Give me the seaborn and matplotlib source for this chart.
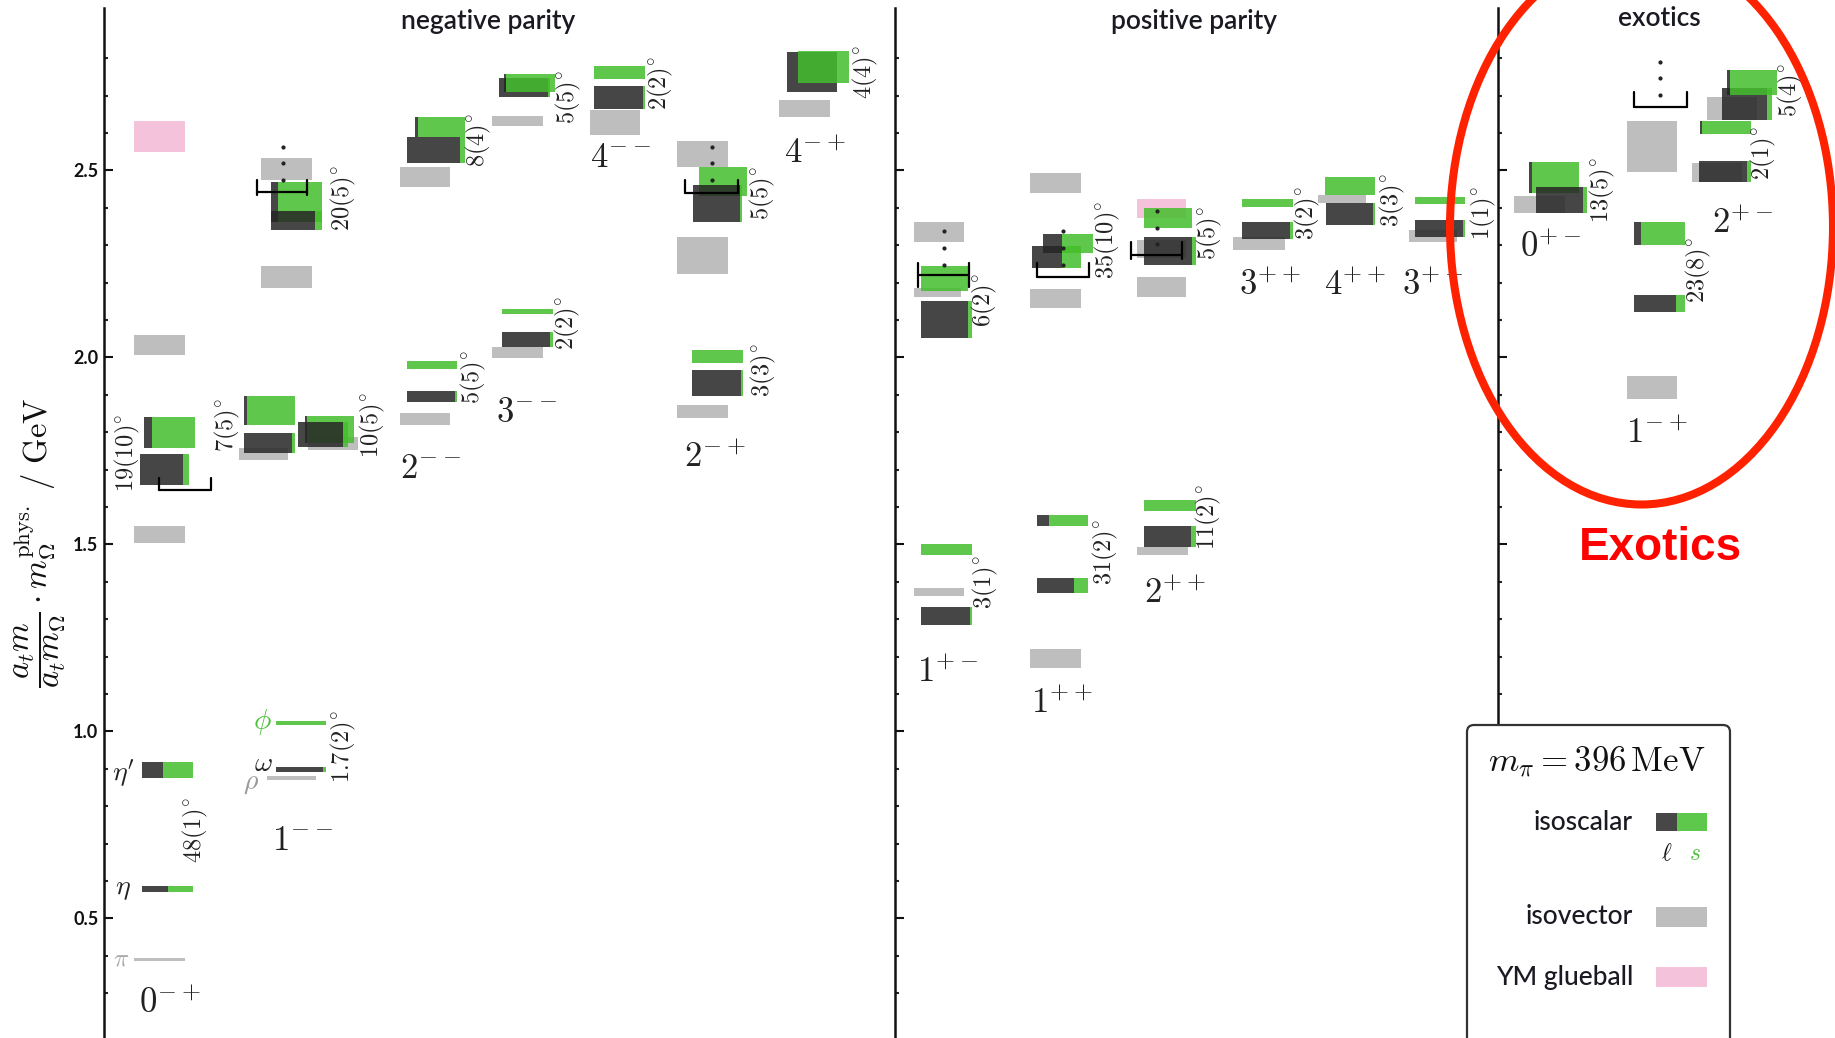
import matplotlib
matplotlib.use("Agg")
import matplotlib.pyplot as plt
from matplotlib.patches import Ellipse, FancyBboxPatch, Rectangle
from matplotlib.ticker import FixedLocator
import pandas as pd
import seaborn as sns

# ============================
# colours
# ============================
DARK = "#262626"     # light-quark (ell) part, drawn with alpha
GREEN = "#43be2b"    # strange (s) part, drawn with alpha
GREY = "#bebebe"
PINK = "#f5c2dc"
RED = "#ff2200"
ALPHA_IS = 0.85

# ============================
# data (masses in GeV)
# ============================
# isovector states
IV_MASS = [2.033, 1.527, 0.390,
           2.503, 2.215, 1.742, 1.770, 0.875,
           2.483, 1.835,
           2.632, 2.013,
           2.628,
           2.544, 2.272, 1.855,
           2.666,
           2.335, 2.174, 1.373,
           2.467, 2.157, 1.195,
           2.290, 2.188, 1.482,
           2.305, 2.424, 2.325,
           2.409, 2.564, 1.920, 2.665, 2.494]
IV_ERR = [0.027, 0.023, 0.004,
          0.029, 0.030, 0.016, 0.017, 0.006,
          0.027, 0.016,
          0.014, 0.015,
          0.034,
          0.035, 0.050, 0.017,
          0.023,
          0.027, 0.012, 0.011,
          0.027, 0.025, 0.025,
          0.025, 0.027, 0.011,
          0.017, 0.011, 0.016,
          0.023, 0.068, 0.030, 0.031, 0.025]

# isoscalar states, with the strange fraction of each
IS_MASS = [1.800, 1.700, 0.897, 0.578,
           2.416, 2.366, 1.858, 1.771, 1.807, 1.794, 1.022, 0.898,
           2.616, 2.555, 1.980, 1.895,
           2.722, 2.734, 2.122, 2.048,
           2.762, 2.695,
           2.470, 2.411, 2.003, 1.931,
           2.763, 2.776,
           2.211, 2.102, 1.486, 1.309,
           2.305, 2.268, 1.564, 1.391,
           2.373, 2.285, 1.603, 1.521,
           2.413, 2.340,
           2.459, 2.384,
           2.420, 2.345,
           2.481, 2.421,
           2.331, 2.145,
           2.677, 2.735, 2.615, 2.497]
IS_ERR = [0.041, 0.041, 0.021, 0.008,
          0.054, 0.025, 0.039, 0.027, 0.036, 0.033, 0.006, 0.007,
          0.027, 0.035, 0.011, 0.015,
          0.026, 0.024, 0.007, 0.020,
          0.018, 0.031,
          0.039, 0.050, 0.017, 0.035,
          0.053, 0.043,
          0.033, 0.050, 0.015, 0.024,
          0.025, 0.029, 0.015, 0.020,
          0.027, 0.037, 0.015, 0.028,
          0.011, 0.023,
          0.024, 0.029,
          0.010, 0.023,
          0.041, 0.035,
          0.031, 0.023,
          0.043, 0.033, 0.017, 0.028]
IS_SFRAC = [0.84, 0.12, 0.59, 0.49,
            0.86, 0.14, 0.95, 0.05, 0.95, 0.10, 1.00, 0.06,
            0.95, 0.09, 1.00, 0.04,
            0.03, 0.97, 1.00, 0.06,
            1.00, 0.04,
            1.00, 0.04, 1.00, 0.04,
            0.00, 1.00,
            1.00, 0.07, 1.00, 0.04,
            0.62, 0.39, 0.77, 0.28,
            1.00, 0.07, 1.00, 0.09,
            1.00, 0.05,
            1.00, 0.04,
            1.00, 0.05,
            0.95, 0.08,
            0.86, 0.18,
            0.10, 0.95, 0.97, 0.08]

# Yang-Mills glueballs
GB_MASS = [2.590, 2.398]
GB_ERR = [0.041, 0.025]

# "more states" dots and brackets (GeV)
DOT_MASS = [[2.563, 2.520, 2.474], [2.563, 2.520, 2.474], [2.338, 2.293, 2.247],
            [2.338, 2.293, 2.247], [2.392, 2.346, 2.303], [2.790, 2.747, 2.702]]
BRACKET_LINE = [1.646, 2.442, 2.440, 2.220, 2.215, 2.274, 2.670]
BRACKET_TOP = [1.678, 2.474, 2.474, 2.252, 2.253, 2.308, 2.710]
BRACKET_BOT = [1.646, 2.434, 2.440, 2.188, 2.215, 2.263, 2.670]

# mixing angles and J^PC labels
ANGLES = ["19(10)", "48(1)", "7(5)", "20(5)", "10(5)", "1.7(2)", "8(4)", "5(5)",
          "5(5)", "2(2)", "2(2)", "5(5)", "3(3)", "4(4)", "6(2)", "3(1)",
          "35(10)", "31(2)", "5(5)", "11(2)", "3(2)", "3(3)", "1(1)",
          "13(5)", "23(8)", "2(1)", "5(4)"]
JPC = ["0^{-+}", "1^{--}", "2^{--}", "3^{--}", "4^{--}", "2^{-+}", "4^{-+}",
       "1^{+-}", "1^{++}", "2^{++}", "3^{++}", "4^{++}", "3^{+-}",
       "0^{+-}", "1^{-+}", "2^{+-}"]
PANELS = ["negative parity", "positive parity", "exotics"]

# ============================
# layout (pixel columns of the 1835 x 1038 canvas)
# ============================
W, H, DPI = 1835, 1038, 100
IV_X = [134, 134, 134, 261, 261, 239, 308, 267, 400, 400, 492, 492, 590,
        677, 677, 677, 779, 914, 914, 914, 1030, 1030, 1030, 1137, 1137, 1137,
        1233, 1318, 1409, 1514, 1627, 1627, 1707, 1692]
IV_W = [51, 51, 51, 51, 51, 49, 50, 49, 50, 50, 51, 51, 50,
        51, 51, 51, 51, 50, 47, 50, 51, 51, 51, 49, 49, 51,
        52, 48, 48, 51, 50, 50, 50, 50]
IS_X = [144, 140, 142, 142,
        271, 271, 244, 244, 305, 298, 276, 276,
        415, 407, 407, 407,
        499, 504, 502, 502,
        594, 594,
        699, 693, 692, 692,
        787, 798,
        921, 921, 921, 921,
        1043, 1032, 1037, 1037,
        1144, 1144, 1144, 1144,
        1242, 1242,
        1325, 1326,
        1415, 1415,
        1529, 1536,
        1634, 1634,
        1722, 1727, 1700, 1699]
IS_W = [51, 49, 51, 51,
        51, 51, 51, 51, 49, 50, 50, 50,
        50, 58, 50, 50,
        51, 51, 51, 51,
        51, 51,
        48, 49, 51, 51,
        50, 51,
        47, 51, 51, 51,
        50, 49, 51, 51,
        48, 52, 52, 52,
        51, 51,
        50, 49,
        50, 50,
        50, 51,
        51, 51,
        50, 50, 51, 52]
GB_X = [134, 1137]
GB_W = [51, 49]
DOT_X = [283, 712, 944, 1063, 1157, 1660]
BRACKET_X = [(159, 211), (257, 307), (685, 738), (918, 969), (1037, 1089),
             (1131, 1182), (1634, 1687)]
ANGLE_POS = [(127, 453), (195, 830), (227, 425), (343, 198), (372, 425), (343, 747),
             (478, 140), (473, 377), (568, 97), (567, 323), (660, 83), (762, 193),
             (763, 370), (865, 72), (984, 300), (985, 582), (1107, 240), (1105, 552),
             (1209, 233), (1208, 517), (1307, 213), (1392, 200), (1483, 213),
             (1602, 190), (1698, 270), (1763, 153), (1790, 90)]
JPC_POS = [(170, 1003), (302, 840), (430, 468), (526, 412), (620, 157), (715, 457),
           (815, 153), (947, 672), (1062, 703), (1175, 593), (1270, 285), (1355, 285),
           (1432, 285), (1550, 247), (1657, 433), (1742, 223)]
PANEL_POS = [(488, 21), (1194, 21), (1659, 19)]


def mass_at(py):
    # pixel row -> GeV on the reference scale
    return 1.5 + (544.4 - py) / 374.0


sns.set_style("ticks")
plt.rcParams["mathtext.fontset"] = "cm"
plt.rcParams["font.family"] = ["Lato", "DejaVu Sans"]

fig = plt.figure(figsize=(W / DPI, H / DPI), dpi=DPI)
ax = fig.add_axes([104 / W, 0, 1 - 104 / W, (H - 8) / H])
ax.set_xlim(104, W)
ax.set_ylim(mass_at(H), mass_at(8))

major = [0.5, 1.0, 1.5, 2.0, 2.5]
minor = [round(0.3 + 0.1 * i, 1) for i in range(26)]


def style_axis(a, labels):
    a.yaxis.set_major_locator(FixedLocator(major))
    a.yaxis.set_minor_locator(FixedLocator(minor))
    a.tick_params(axis="y", which="major", direction="in", length=6.5, width=1.5,
                  pad=4, labelsize=13, labelleft=labels, colors="#111111")
    a.tick_params(axis="y", which="minor", direction="in", length=3.2, width=1.5)
    a.set_xticks([])
    sns.despine(ax=a, top=True, right=True, bottom=True)
    a.spines["left"].set_linewidth(1.8)
    a.spines["left"].set_color("#111111")


style_axis(ax, True)
ax.set_yticklabels([f"{v:.1f}" for v in major], fontweight="bold")

# ---- glueballs and isovectors
ax.bar(GB_X, [2 * e for e in GB_ERR], width=GB_W, bottom=[m - e for m, e in zip(GB_MASS, GB_ERR)],
       align="edge", color=PINK, lw=0, zorder=2)
ax.bar(IV_X, [2 * e for e in IV_ERR], width=IV_W, bottom=[m - e for m, e in zip(IV_MASS, IV_ERR)],
       align="edge", color=GREY, lw=0, zorder=2)

# ---- isoscalars: ell part (dark) left, s part (green) right
iso = pd.DataFrame({"x": IS_X, "w": IS_W, "m": IS_MASS, "e": IS_ERR, "s": IS_SFRAC})
iso["wl"] = iso["w"] * (1 - iso["s"])
for i, r in iso.iterrows():
    z = 3 + i * 0.01
    if r.wl > 0:
        ax.bar(r.x, 2 * r.e, width=r.wl, bottom=r.m - r.e, align="edge",
               color=DARK, alpha=ALPHA_IS, lw=0, zorder=z)
    if r.s > 0:
        ax.bar(r.x + r.wl, 2 * r.e, width=r.w - r.wl, bottom=r.m - r.e, align="edge",
               color=GREEN, alpha=ALPHA_IS, lw=0, zorder=z)

# ---- dots and brackets
for x, ms in zip(DOT_X, DOT_MASS):
    ax.plot([x] * len(ms), ms, "o", ms=2.0, color="#222222", zorder=6)
for (x0, x1), ml, mt, mb in zip(BRACKET_X, BRACKET_LINE, BRACKET_TOP, BRACKET_BOT):
    ax.plot([x0, x1], [ml, ml], color="black", lw=1.6, zorder=6)
    ax.plot([x0, x0], [mb, mt], color="black", lw=1.6, zorder=6)
    ax.plot([x1, x1], [mb, mt], color="black", lw=1.6, zorder=6)

# ---- panel dividers
for px in (895, 1498):
    d = fig.add_axes([px / W, 0, 0.02, (H - 8) / H])
    d.set_ylim(ax.get_ylim())
    d.patch.set_alpha(0)
    style_axis(d, False)

# ---- overlay in pixel coordinates for annotations
ov = fig.add_axes([0, 0, 1, 1], zorder=5)
ov.set_xlim(0, W)
ov.set_ylim(H, 0)
ov.axis("off")
ov.patch.set_alpha(0)

for t, (x, y) in zip(PANELS, PANEL_POS):
    ov.text(x, y, t, ha="center", va="center", fontsize=19, fontweight="semibold",
            color="#1a1a22")

for t, (x, y) in zip(ANGLES, ANGLE_POS):
    ov.text(x, y, rf"${t}^{{\circ}}$", rotation=90, ha="center", va="center",
            fontsize=17.5, color="#222222")

for t, (x, y) in zip(JPC, JPC_POS):
    ov.text(x, y, rf"${t}$", ha="center", va="center", fontsize=25, color="#222222")

ov.text(123, 773, r"$\eta'$", ha="center", va="center", fontsize=20, color="#222222")
ov.text(123, 889, r"$\eta$", ha="center", va="center", fontsize=20, color="#222222")
ov.text(121, 958, r"$\pi$", ha="center", va="center", fontsize=18, color="#aaaaaa")
ov.text(262, 722, r"$\phi$", ha="center", va="center", fontsize=21, color="#4cc23a")
ov.text(263, 763, r"$\omega$", ha="center", va="center", fontsize=20, color="#222222")
ov.text(251, 783, r"$\rho$", ha="center", va="center", fontsize=20, color="#999999")

ov.text(40, 543, r"$\dfrac{a_t m}{a_t m_\Omega}\cdot m_\Omega^{\mathrm{phys.}}\ /\ \mathrm{GeV}$",
        rotation=90, ha="center", va="center", fontsize=23.5, color="#111111")

# ---- legend box
ov.add_patch(FancyBboxPatch((1467, 725), 263, 340, boxstyle="round,pad=0,rounding_size=7",
                            facecolor="white", edgecolor="#333333", lw=1.6, zorder=7))
ov.text(1597, 762, r"$m_\pi = 396\,\mathrm{MeV}$", ha="center", va="center",
        fontsize=25, color="#111111", zorder=8)
for t, y in zip(["isoscalar", "isovector", "YM glueball"], [823, 916, 977]):
    ov.text(1633, y, t, ha="right", va="center", fontsize=19, fontweight="medium",
            color="#1a1a22", zorder=8)
ov.add_patch(Rectangle((1656, 813), 21, 18, color="#474747", lw=0, zorder=8))
ov.add_patch(Rectangle((1677, 813), 30, 18, color="#5dc84b", lw=0, zorder=8))
ov.text(1667, 853, r"$\ell$", ha="center", va="center", fontsize=17, color="#111111", zorder=8)
ov.text(1695, 853, r"$s$", ha="center", va="center", fontsize=17, color="#4cc23a", zorder=8)
ov.add_patch(Rectangle((1656, 907), 51, 20, color=GREY, lw=0, zorder=8))
ov.add_patch(Rectangle((1656, 967), 51, 20, color=PINK, lw=0, zorder=8))

# ---- red highlight
ov.add_patch(Ellipse((1641.5, 227), 383, 555, fill=False, edgecolor=RED, lw=5.8, zorder=9))
ov.text(1660, 548, "Exotics", ha="center", va="center", fontsize=33, fontweight="bold",
        color="#ff0000", family=["Liberation Sans", "DejaVu Sans"], zorder=9)

fig.savefig("out.png", dpi=DPI)
